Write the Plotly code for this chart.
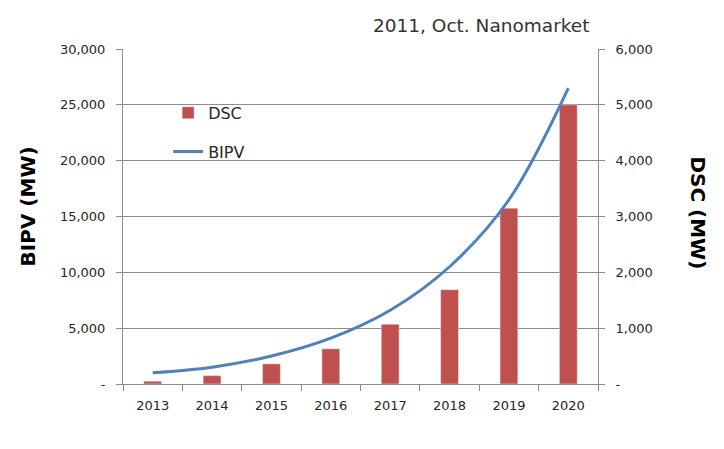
import plotly.graph_objects as go

years = ["2013", "2014", "2015", "2016", "2017", "2018", "2019", "2020"]
dsc_mw = [50, 150, 360, 630, 1070, 1690, 3150, 5000]
bipv_mw = [1000, 1500, 2500, 4100, 6600, 10500, 16500, 26500]

left_ticks = [0, 5000, 10000, 15000, 20000, 25000, 30000]
left_labels = ["-", "5,000", "10,000", "15,000", "20,000", "25,000", "30,000"]
right_ticks = [0, 1000, 2000, 3000, 4000, 5000, 6000]
right_labels = ["-", "1,000", "2,000", "3,000", "4,000", "5,000", "6,000"]

FONT = "DejaVu Sans"
TXT = "#262626"
GRID = "#8c8c8c"

fig = go.Figure()
fig.add_trace(go.Bar(x=years, y=dsc_mw, name="DSC", marker_color="#C0504D",
                     yaxis="y", legendgroup="a"))
fig.add_trace(go.Scatter(x=years, y=bipv_mw, name="BIPV", mode="lines",
                         line=dict(color="#4F81BD", width=3, shape="spline"),
                         yaxis="y2", legendgroup="b"))

fig.update_layout(
    width=716, height=441,
    margin=dict(l=115, r=126, t=41, b=65),
    paper_bgcolor="white", plot_bgcolor="white",
    font=dict(family=FONT, size=12, color=TXT),
    bargap=0.7,
    showlegend=True,
    legend=dict(x=0.095, y=0.86, xanchor="left", yanchor="top",
                font=dict(size=16, color=TXT), tracegroupgap=15,
                bgcolor="rgba(0,0,0,0)"),
    xaxis=dict(type="category", showgrid=False, showline=True, linecolor=GRID,
               ticks="outside", tickson="boundaries", ticklen=6, tickcolor=GRID,
               tickfont=dict(size=13, color=TXT), ticklabelstandoff=9),
    yaxis=dict(side="right", range=[0, 6000], tickvals=right_ticks, ticktext=right_labels,
               showgrid=True, gridcolor=GRID, showline=True, linecolor=GRID,
               ticks="outside", ticklen=6, tickcolor=GRID, zeroline=False,
               tickfont=dict(size=13, color=TXT), ticklabelstandoff=8),
    yaxis2=dict(side="left", overlaying="y", range=[0, 30000], tickvals=left_ticks,
                ticktext=left_labels, showgrid=False, showline=True, linecolor=GRID,
                ticks="outside", ticklen=6, tickcolor=GRID, zeroline=False,
                tickfont=dict(size=13, color=TXT), ticklabelstandoff=8),
    annotations=[
        dict(text="2011, Oct. Nanomarket", xref="paper", yref="paper", x=0.985, y=1.0,
             xanchor="right", yanchor="bottom", yshift=11, showarrow=False,
             font=dict(size=18.5, color="#333333")),
        dict(text="<b>BIPV (MW)</b>", xref="paper", yref="paper", x=-0.2, y=0.53,
             xanchor="center", yanchor="middle", textangle=-90, showarrow=False,
             font=dict(size=20, color="black")),
        dict(text="<b>DSC (MW)</b>", xref="paper", yref="paper", x=1.21, y=0.51,
             xanchor="center", yanchor="middle", textangle=90, showarrow=False,
             font=dict(size=20, color="black")),
    ],
)

fig.write_html("out.html")
